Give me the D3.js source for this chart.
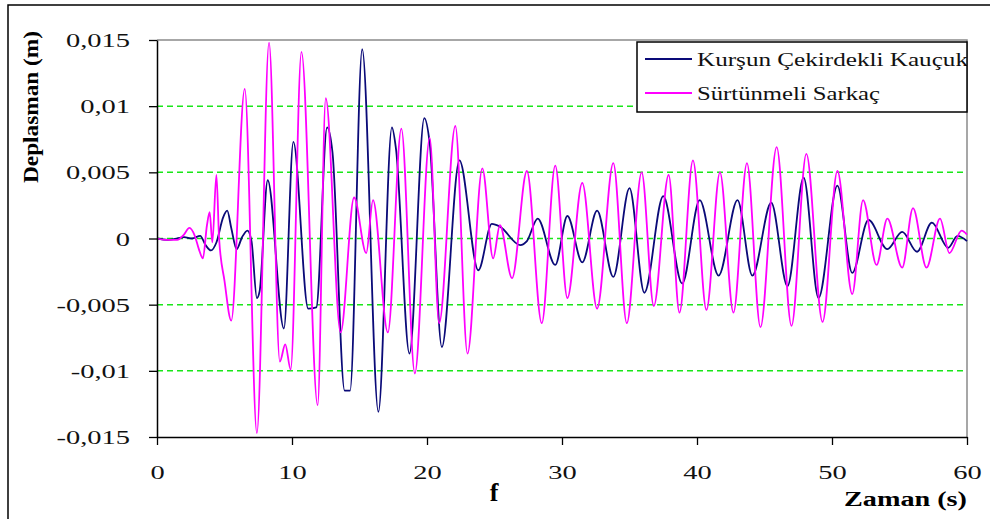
<!DOCTYPE html>
<html>
<head>
<meta charset="utf-8">
<script src="https://cdn.jsdelivr.net/npm/d3@7"></script>
<style>
  body { margin: 0; background: #fff; }
  svg { display: block; }
</style>
</head>
<body>
<svg id="chart" width="990" height="519"></svg>
<script>
// Time (s) and displacement (m) of the lead-core rubber isolator
const kaucukTime = [0, 0.8, 1.5, 2.0, 2.6, 3.2, 3.6, 4.0, 4.4, 4.9, 5.2, 5.5, 5.9, 6.3, 6.7, 7.0, 7.4, 7.6,
  8.2, 9.4, 10.1, 11.2, 11.8, 12.6, 13.0, 13.9, 14.3, 15.2, 16.4, 17.4, 17.7, 18.7, 19.8, 20.2, 21.1,
  22.4, 23.8, 24.8, 25.4, 26.9, 27.4, 28.2, 29.5, 30.4, 31.5, 32.6, 33.8, 35.0, 36.1, 37.5, 38.9,
  40.2, 41.6, 43.0, 44.1, 45.5, 46.7, 47.9, 49.0, 50.4, 51.5, 52.7, 54.1, 55.2, 56.3, 57.4, 58.6, 59.3, 60];
const kaucukDisp = [0, -0.0001, 0, 0.0001, 0, 0.0002, -0.0005, -0.0009, -0.0003, 0.0016, 0.0021, 0.0008, -0.0008, 0.0001, 0.0006, -0.0002, -0.0045, -0.0040,
  0.0044, -0.0068, 0.0073, -0.0053, -0.0052, 0.0084, 0.0065, -0.0115, -0.0115, 0.0143, -0.0131, 0.0084, 0.0068, -0.0087, 0.0091, 0.0072, -0.0082,
  0.0059, -0.0024, 0.0011, 0.0009, -0.0005, -0.0002, 0.0015, -0.0020, 0.0017, -0.0018, 0.0021, -0.0029, 0.0038, -0.0041, 0.0032, -0.0034,
  0.0029, -0.0028, 0.0029, -0.0028, 0.0027, -0.0036, 0.0046, -0.0045, 0.0040, -0.0026, 0.0014, -0.0008, 0.0005, -0.0010, 0.0012, -0.0007, 0.0002, -0.0002];

// Time (s) and displacement (m) of the friction pendulum isolator
const sarkacTime = [0, 0.6, 1.5, 2.0, 2.4, 2.8, 3.1, 3.4, 3.7, 3.9, 4.1, 4.4, 4.6, 5.0, 5.5, 6.5, 7.4, 8.3,
  9.1, 9.5, 9.9, 10.7, 11.9, 12.5, 13.6, 14.6, 15.5, 16.0, 17.1, 18.1, 19.1, 20.2, 20.9, 22.1, 23.0,
  24.1, 24.9, 25.4, 26.3, 27.4, 28.5, 29.5, 30.4, 31.5, 32.6, 33.8, 34.8, 35.9, 36.8, 37.9, 38.7,
  39.7, 40.7, 41.7, 42.7, 43.7, 44.7, 45.9, 47.0, 48.1, 49.3, 50.4, 51.5, 52.3, 53.3, 54.1, 55.2,
  56.0, 57.0, 58.0, 58.7, 59.6, 60];
const sarkacDisp = [0, -0.0001, -0.0001, 0.0003, 0.0008, 0.0002, -0.0008, -0.0015, 0.0010, 0.0020, -0.0003, 0.0048, 0.0000, -0.0032, -0.0062, 0.0113, -0.0147, 0.0148,
  -0.0093, -0.0080, -0.0099, 0.0141, -0.0126, 0.0106, -0.0071, 0.0031, -0.0011, 0.0029, -0.0071, 0.0083, -0.0102, 0.0076, -0.0064, 0.0085, -0.0087,
  0.0053, -0.0015, 0.0010, -0.0030, 0.0051, -0.0064, 0.0055, -0.0045, 0.0042, -0.0053, 0.0057, -0.0064, 0.0050, -0.0051, 0.0048, -0.0056,
  0.0059, -0.0054, 0.0050, -0.0056, 0.0057, -0.0067, 0.0069, -0.0066, 0.0064, -0.0063, 0.0051, -0.0042, 0.0029, -0.0020, 0.0015, -0.0022,
  0.0023, -0.0022, 0.0015, -0.0011, 0.0006, 0.0003];

const seriesNames = ["Kurşun Çekirdekli Kauçuk", "Sürtünmeli Sarkaç"];
const seriesColors = ["#0a0a78", "#ff00ff"];

const xTicks = [0, 10, 20, 30, 40, 50, 60];
const yTicks = [-0.015, -0.01, -0.005, 0, 0.005, 0.01, 0.015];
const yTickLabels = ["-0,015", "-0,01", "-0,005", "0", "0,005", "0,01", "0,015"];
const gridValues = [-0.01, -0.005, 0, 0.005, 0.01];

const FONT = "'Liberation Serif', 'Times New Roman', serif";
const stretch = 1.5; // horizontal widening of the serif lettering

const svg = d3.select("#chart");

const plot = { left: 157, right: 967, top: 40, bottom: 437 };
const x = d3.scaleLinear().domain([0, 60]).range([plot.left, plot.right]);
const y = d3.scaleLinear().domain([-0.015, 0.015]).range([plot.bottom, plot.top]);

// outer chart frame (left and top edges)
svg.append("path")
  .attr("d", "M8,519 V5 H990")
  .attr("fill", "none").attr("stroke", "#000").attr("stroke-width", 1.5);

// plot-area frame on the top and right
svg.append("path")
  .attr("d", `M${plot.left},${plot.top} H${plot.right} V${plot.bottom}`)
  .attr("fill", "none").attr("stroke", "#8a8a8a").attr("stroke-width", 1.5);

// dashed horizontal gridlines
svg.append("g").selectAll("line").data(gridValues).join("line")
  .attr("x1", plot.left).attr("x2", plot.right)
  .attr("y1", d => y(d)).attr("y2", d => y(d))
  .attr("stroke", "#19e619").attr("stroke-width", 1.5)
  .attr("stroke-dasharray", "6,4");

// series
const line = d3.line().x(d => x(d[0])).y(d => y(d[1])).curve(d3.curveMonotoneX);
const seriesData = [
  d3.zip(kaucukTime, kaucukDisp),
  d3.zip(sarkacTime, sarkacDisp)
];
svg.append("g").selectAll("path").data(seriesData).join("path")
  .attr("d", line)
  .attr("fill", "none")
  .attr("stroke", (d, i) => seriesColors[i])
  .attr("stroke-width", 1.8)
  .attr("stroke-linejoin", "round");

// y axis
const yAxis = svg.append("g")
  .attr("transform", `translate(${plot.left},0)`)
  .call(d3.axisLeft(y).tickValues(yTicks).tickSize(8).tickSizeOuter(0)
    .tickFormat((d, i) => yTickLabels[i]));
yAxis.attr("font-family", FONT).attr("font-size", 19);
yAxis.select(".domain").attr("stroke", "#000").attr("stroke-width", 1.5);
yAxis.selectAll(".tick line").attr("stroke", "#000").attr("stroke-width", 1.3);
yAxis.selectAll(".tick text")
  .attr("x", -27 / stretch).attr("dy", "0.35em")
  .attr("transform", `scale(${stretch},1)`)
  .attr("fill", "#111");

// x axis
const xAxis = svg.append("g")
  .attr("transform", `translate(0,${plot.bottom})`)
  .call(d3.axisBottom(x).tickValues(xTicks).tickSize(8).tickSizeOuter(0));
xAxis.attr("font-family", FONT).attr("font-size", 19);
xAxis.select(".domain").attr("stroke", "#000").attr("stroke-width", 1.5);
xAxis.selectAll(".tick line").attr("stroke", "#000").attr("stroke-width", 1.3);
xAxis.selectAll(".tick text")
  .attr("y", 35).attr("dy", "0.35em")
  .attr("transform", `scale(${stretch},1)`)
  .attr("fill", "#111");

// axis titles
svg.append("text")
  .attr("transform", "translate(38,107) rotate(-90)")
  .attr("text-anchor", "middle")
  .attr("font-family", FONT).attr("font-weight", "bold").attr("font-size", 21)
  .attr("textLength", 152).attr("lengthAdjust", "spacingAndGlyphs")
  .text("Deplasman (m)");

svg.append("text")
  .attr("x", 967).attr("y", 506)
  .attr("text-anchor", "end")
  .attr("font-family", FONT).attr("font-weight", "bold").attr("font-size", 20)
  .attr("textLength", 123).attr("lengthAdjust", "spacingAndGlyphs")
  .text("Zaman (s)");

svg.append("text")
  .attr("x", 494).attr("y", 501)
  .attr("text-anchor", "middle")
  .attr("font-family", FONT).attr("font-weight", "bold").attr("font-size", 26)
  .text("f");

// legend
const legend = svg.append("g");
svg.append("clipPath").attr("id", "legendClip")
  .append("rect").attr("x", 637).attr("y", 42).attr("width", 330).attr("height", 70);
legend.append("rect")
  .attr("x", 637).attr("y", 42).attr("width", 330).attr("height", 70)
  .attr("fill", "#fff");
const legendRows = legend.append("g").attr("clip-path", "url(#legendClip)")
  .selectAll("g").data(seriesNames).join("g")
  .attr("transform", (d, i) => `translate(0,${i === 0 ? 59 : 93})`);
legendRows.append("line")
  .attr("x1", 645).attr("x2", 692).attr("y1", 0).attr("y2", 0)
  .attr("stroke", (d, i) => seriesColors[i]).attr("stroke-width", 1.8);
legendRows.append("text")
  .attr("x", 697).attr("y", 7)
  .attr("font-family", FONT).attr("font-size", 19.5)
  .attr("textLength", (d, i) => i === 0 ? 271 : 183)
  .attr("lengthAdjust", "spacingAndGlyphs")
  .attr("fill", "#111")
  .text(d => d);
legend.append("rect")
  .attr("x", 637).attr("y", 42).attr("width", 330).attr("height", 70)
  .attr("fill", "none").attr("stroke", "#000").attr("stroke-width", 1.5);
</script>
</body>
</html>
